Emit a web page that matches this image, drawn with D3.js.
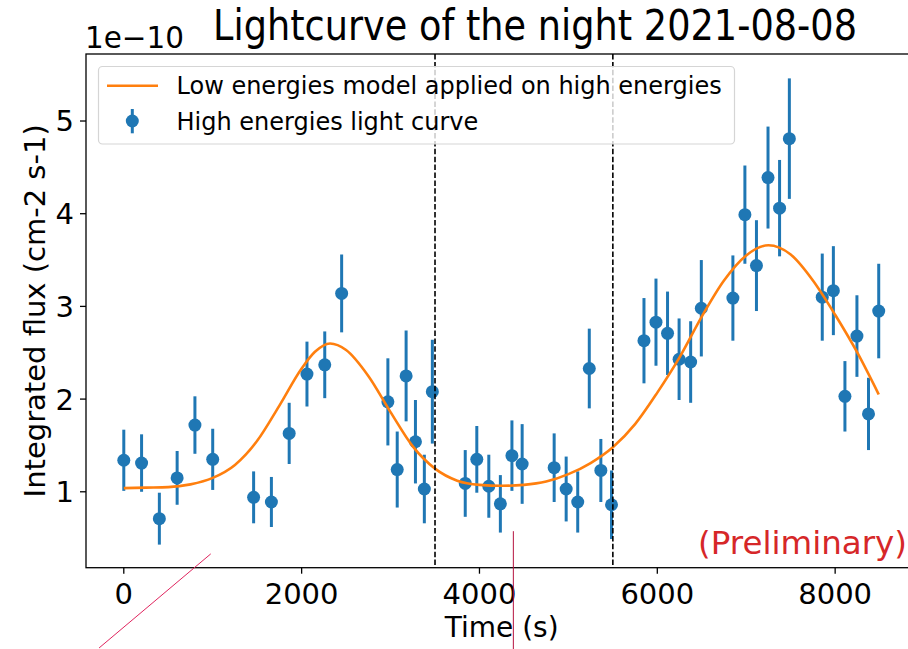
<!DOCTYPE html>
<html>
<head>
<meta charset="utf-8">
<script src="https://cdn.jsdelivr.net/npm/d3@7"></script>
<style>
  body { margin: 0; background: #fff; }
  svg { display: block; }
  text { font-family: "DejaVu Sans", sans-serif; }
</style>
</head>
<body>
<div id="chart"></div>
<script>
// light curve points (flux in units of 1e-10 cm-2 s-1)
const times = [0, 200, 400, 600, 800, 1000, 1460, 1660, 1860, 2060, 2260, 2450,
  2970, 3075, 3175, 3280, 3380, 3470, 3840, 3970, 4105, 4235, 4365, 4480,
  4840, 4975, 5105, 5235, 5365, 5485, 5850, 5985, 6115, 6245, 6375, 6495,
  6850, 6985, 7115, 7245, 7375, 7485, 7855, 7980, 8110, 8245, 8375, 8490];
const flux = [1.34, 1.31, 0.71, 1.15, 1.72, 1.35, 0.94, 0.89, 1.63, 2.27, 2.37, 3.14,
  1.97, 1.24, 2.25, 1.54, 1.03, 2.08, 1.09, 1.35, 1.06, 0.87, 1.39, 1.30,
  1.26, 1.03, 0.89, 2.33, 1.23, 0.86, 2.63, 2.83, 2.71, 2.43, 2.40, 2.98,
  3.09, 3.99, 3.44, 4.39, 4.06, 4.81, 3.10, 3.17, 2.03, 2.68, 1.84, 2.95];
const fluxErr = [0.33, 0.31, 0.28, 0.29, 0.31, 0.33, 0.28, 0.27, 0.33, 0.35, 0.36, 0.42,
  0.47, 0.41, 0.49, 0.45, 0.37, 0.56, 0.36, 0.36, 0.34, 0.31, 0.38, 0.43,
  0.37, 0.35, 0.33, 0.43, 0.34, 0.37, 0.46, 0.47, 0.45, 0.44, 0.44, 0.52,
  0.46, 0.53, 0.49, 0.55, 0.52, 0.65, 0.47, 0.48, 0.38, 0.44, 0.39, 0.51];

// model curve
const modelT = [0, 250, 500, 750, 1000, 1250, 1500, 1750, 2000, 2150, 2320, 2500,
  2750, 3000, 3250, 3500, 3750, 4000, 4250, 4500, 4750, 5000, 5250, 5500,
  5750, 6000, 6250, 6500, 6750, 7000, 7250, 7500, 7750, 8000, 8250, 8490];
const modelFlux = [1.04, 1.045, 1.05, 1.08, 1.15, 1.29, 1.55, 1.93, 2.33, 2.51, 2.60, 2.53,
  2.25, 1.86, 1.49, 1.25, 1.12, 1.075, 1.065, 1.075, 1.11, 1.19, 1.31, 1.48,
  1.73, 2.07, 2.45, 2.89, 3.28, 3.55, 3.66, 3.56, 3.28, 2.91, 2.50, 2.05];

const vLines = [3500, 5500];
const xTicks = [0, 2000, 4000, 6000, 8000];
const yTicks = [1, 2, 3, 4, 5];

// stray strokes on the picture, in data units
const strayStrokes = [
  {t1: -278, v1: -0.685, t2: 978, v2: 0.33, color: "#e0245e"},
  {t1: 4381, v1: 0.575, t2: 4381, v2: -0.70, color: "#b5123f"}
];

const W = 908, H = 649;
const mLeft = 86, mTop = 54, mRight = 917.4, mBottom = 567.7;

const svg = d3.select("#chart").append("svg")
  .attr("width", W).attr("height", H);

const x = d3.scaleLinear().domain([-425, 8925]).range([mLeft, mRight]);
const y = d3.scaleLinear().domain([0.181, 5.723]).range([mBottom, mTop]);

// error bars
const pts = times.map((t, i) => ({t: t, v: flux[i], e: fluxErr[i]}));
svg.append("g").selectAll("line")
  .data(pts)
  .join("line")
  .attr("x1", d => x(d.t)).attr("x2", d => x(d.t))
  .attr("y1", d => y(d.v - d.e)).attr("y2", d => y(d.v + d.e))
  .attr("stroke", "#1f77b4").attr("stroke-width", 3);
svg.append("g").selectAll("circle")
  .data(pts)
  .join("circle")
  .attr("cx", d => x(d.t)).attr("cy", d => y(d.v))
  .attr("r", 6.5).attr("fill", "#1f77b4");

// model line
const line = d3.line()
  .x((d, i) => x(modelT[i]))
  .y(d => y(d))
  .curve(d3.curveMonotoneX);
svg.append("path")
  .datum(modelFlux)
  .attr("d", line)
  .attr("fill", "none")
  .attr("stroke", "#ff7f0e")
  .attr("stroke-width", 2.6);

// vertical dashed lines
svg.append("g").selectAll("line")
  .data(vLines)
  .join("line")
  .attr("x1", d => x(d)).attr("x2", d => x(d))
  .attr("y1", mTop).attr("y2", mBottom)
  .attr("stroke", "#000").attr("stroke-width", 1.6)
  .attr("stroke-dasharray", "5.5,2.4");

// spines
svg.append("rect")
  .attr("x", mLeft).attr("y", mTop)
  .attr("width", mRight - mLeft).attr("height", mBottom - mTop)
  .attr("fill", "none").attr("stroke", "#000").attr("stroke-width", 1.3);

// x axis
const gx = svg.append("g");
gx.selectAll("line").data(xTicks).join("line")
  .attr("x1", d => x(d)).attr("x2", d => x(d))
  .attr("y1", mBottom).attr("y2", mBottom + 6)
  .attr("stroke", "#000").attr("stroke-width", 1.3);
gx.selectAll("text").data(xTicks).join("text")
  .attr("x", d => x(d)).attr("y", 604)
  .attr("text-anchor", "middle")
  .attr("font-size", 29)
  .text(d => d);

// y axis
const gy = svg.append("g");
gy.selectAll("line").data(yTicks).join("line")
  .attr("x1", mLeft - 6).attr("x2", mLeft)
  .attr("y1", d => y(d)).attr("y2", d => y(d))
  .attr("stroke", "#000").attr("stroke-width", 1.3);
gy.selectAll("text").data(yTicks).join("text")
  .attr("x", 74).attr("y", d => y(d))
  .attr("dy", "0.36em")
  .attr("text-anchor", "end")
  .attr("font-size", 29)
  .text(d => d);

// labels
svg.append("text")
  .attr("x", (mLeft + mRight) / 2).attr("y", 637)
  .attr("text-anchor", "middle").attr("font-size", 28)
  .text("Time (s)");
svg.append("text")
  .attr("transform", `translate(45, ${(mTop + mBottom) / 2}) rotate(-90)`)
  .attr("text-anchor", "middle").attr("font-size", 29)
  .text("Integrated flux (cm-2 s-1)");
svg.append("text")
  .attr("x", 213).attr("y", 40)
  .attr("font-family", "'Liberation Sans', Arial, sans-serif")
  .attr("font-size", 42)
  .attr("textLength", 644).attr("lengthAdjust", "spacingAndGlyphs")
  .text("Lightcurve of the night 2021-08-08");
svg.append("text")
  .attr("x", 85).attr("y", 48)
  .attr("font-family", "'Liberation Sans', Arial, sans-serif")
  .attr("font-size", 30)
  .attr("textLength", 99).attr("lengthAdjust", "spacingAndGlyphs")
  .text("1e\u221210");
svg.append("text")
  .attr("x", 907).attr("y", 554)
  .attr("text-anchor", "end").attr("font-size", 32.5)
  .attr("fill", "#d62728")
  .text("(Preliminary)");

// legend
const lg = svg.append("g");
lg.append("rect")
  .attr("x", 98.5).attr("y", 66.5).attr("width", 636).attr("height", 77.5)
  .attr("rx", 4).attr("fill", "#fff").attr("fill-opacity", 0.8)
  .attr("stroke", "#d5d5d5").attr("stroke-width", 1.2);
lg.append("line")
  .attr("x1", 107).attr("x2", 158).attr("y1", 85.7).attr("y2", 85.7)
  .attr("stroke", "#ff7f0e").attr("stroke-width", 2.6);
lg.append("line")
  .attr("x1", 132.3).attr("x2", 132.3).attr("y1", 109).attr("y2", 133.3)
  .attr("stroke", "#1f77b4").attr("stroke-width", 3);
lg.append("circle")
  .attr("cx", 132.3).attr("cy", 121).attr("r", 6.5).attr("fill", "#1f77b4");
lg.append("text")
  .attr("x", 176.5).attr("y", 85.7).attr("dy", "0.36em")
  .attr("font-size", 24)
  .text("Low energies model applied on high energies");
lg.append("text")
  .attr("x", 176.5).attr("y", 121).attr("dy", "0.36em")
  .attr("font-size", 24)
  .text("High energies light curve");

// stray strokes
svg.append("g").selectAll("line")
  .data(strayStrokes)
  .join("line")
  .attr("x1", d => x(d.t1)).attr("y1", d => y(d.v1))
  .attr("x2", d => x(d.t2)).attr("y2", d => y(d.v2))
  .attr("stroke", d => d.color).attr("stroke-width", 1);
</script>
</body>
</html>
